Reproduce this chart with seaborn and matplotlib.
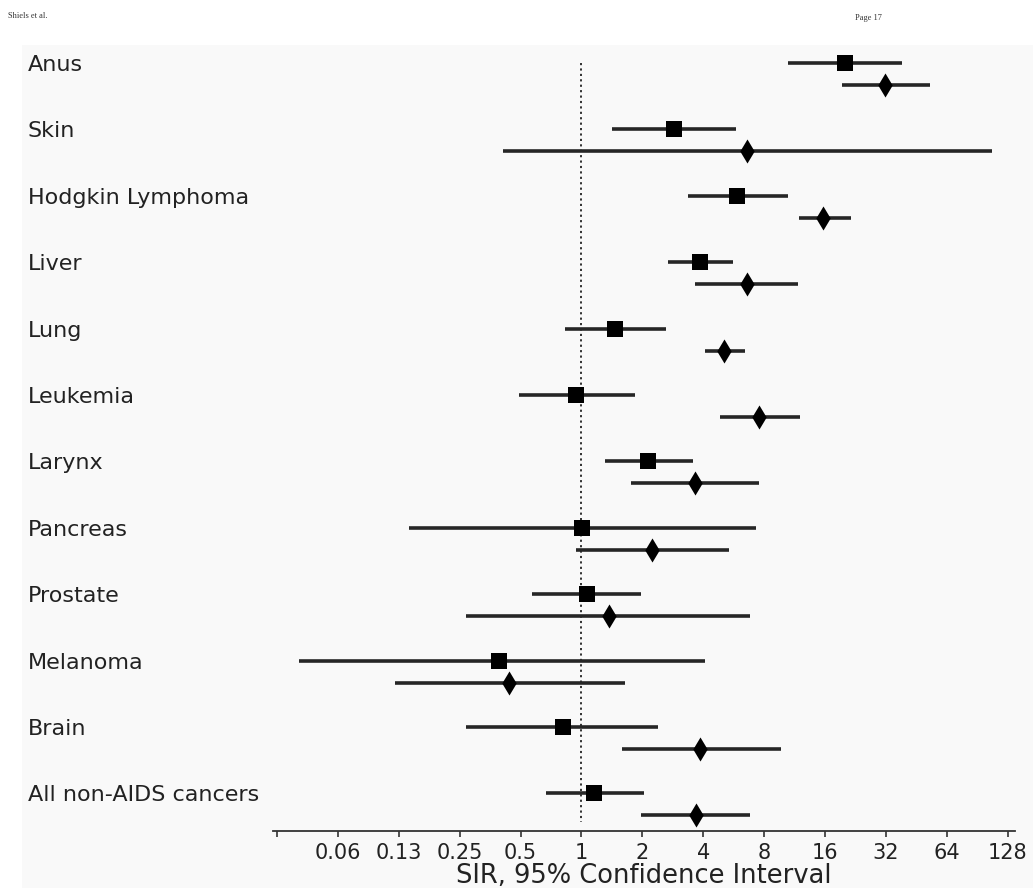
import numpy as np
import pandas as pd
import matplotlib
matplotlib.use("Agg")
import matplotlib.pyplot as plt
import seaborn as sns
from matplotlib.patches import Rectangle

# cancer sites, top to bottom
sites = ["Anus", "Skin", "Hodgkin Lymphoma", "Liver", "Lung", "Leukemia",
         "Larynx", "Pancreas", "Prostate", "Melanoma", "Brain",
         "All non-AIDS cancers"]

# first estimate per site (square marker)
sq_sir = [20.0, 2.86, 5.87, 3.85, 1.46, 0.94, 2.14, 1.01, 1.06, 0.39, 0.81, 1.16]
sq_lo = [10.5, 1.42, 3.37, 2.68, 0.83, 0.49, 1.30, 0.14, 0.57, 0.04, 0.27, 0.67]
sq_hi = [38.6, 5.84, 10.5, 5.62, 2.63, 1.84, 3.54, 7.26, 1.98, 4.09, 2.38, 2.03]

# second estimate per site (diamond marker)
dm_sir = [31.6, 6.6, 15.7, 6.6, 5.08, 7.55, 3.64, 2.24, 1.37, 0.44, 3.87, 3.70]
dm_lo = [19.3, 0.41, 11.9, 3.66, 4.07, 4.83, 1.75, 0.94, 0.27, 0.12, 1.59, 1.98]
dm_hi = [52.7, 107.0, 21.6, 11.7, 6.46, 12.0, 7.55, 5.37, 6.82, 1.64, 9.64, 6.78]

tick_vals = [2.0 ** k for k in range(-5, 8)]
tick_labels = ["", "0.06", "0.13", "0.25", "0.5", "1", "2", "4", "8",
               "16", "32", "64", "128"]

rows = np.arange(len(sites))
df_sq = pd.DataFrame({"site": sites, "sir": sq_sir, "lo": sq_lo, "hi": sq_hi, "y": rows})
df_dm = pd.DataFrame({"site": sites, "sir": dm_sir, "lo": dm_lo, "hi": dm_hi, "y": rows + 0.33})

sns.set_theme(style="white")
plt.rcParams["font.family"] = ["DejaVu Sans"]

fig = plt.figure(figsize=(10.33, 8.88), dpi=100)

# light page panel behind the chart
fig.patches.append(Rectangle((22 / 1033, 0), 1, 1 - 45 / 888, transform=fig.transFigure,
                             facecolor="#f9f9f9", edgecolor="none", zorder=-10))

ax = fig.add_axes([0.264, 0.0642, 0.7186, 0.8851])
ax.patch.set_alpha(0)

# reference line at SIR = 1
ax.vlines(1, 0, 11.43, colors="#222222", linestyles=(0, (1.2, 1.8)), linewidth=1.3, zorder=1)

# confidence intervals
ax.hlines(df_sq["y"], df_sq["lo"], df_sq["hi"], colors="#262626", linewidth=2.6, zorder=2)
ax.hlines(df_dm["y"], df_dm["lo"], df_dm["hi"], colors="#262626", linewidth=2.6, zorder=2)

# point estimates
sns.scatterplot(data=df_sq, x="sir", y="y", marker="s", s=135, color="black",
                linewidth=0, ax=ax, legend=False, zorder=3)
sns.scatterplot(data=df_dm, x="sir", y="y", marker="d", s=150, color="black",
                linewidth=0, ax=ax, legend=False, zorder=3)

ax.set_xscale("log", base=2)
ax.set_xlim(2 ** -5.07, 2 ** 7.12)
ax.set_ylim(11.566, -0.271)

ax.set_xticks(tick_vals)
ax.set_xticklabels(tick_labels, fontsize=15, color="#222222")
ax.minorticks_off()
ax.tick_params(axis="x", direction="out", length=4, width=1.2, color="#333333",
               pad=5, bottom=True)

ax.set_yticks(rows)
ax.set_yticklabels(sites, fontsize=16, color="#222222")
for lbl in ax.get_yticklabels():
    lbl.set_horizontalalignment("left")
ax.tick_params(axis="y", length=0, pad=176.5)

ax.set_xlabel("SIR, 95% Confidence Interval", fontsize=18.5, color="#222222", labelpad=0)
ax.set_ylabel("")

for side in ["top", "right", "left"]:
    ax.spines[side].set_visible(False)
ax.spines["bottom"].set_color("#333333")
ax.spines["bottom"].set_linewidth(1.3)

# page header
fig.text(8 / 1033, 1 - 16 / 888, "Shiels et al.", fontsize=6, family="Liberation Serif",
         color="#333333", va="center")
fig.text(855 / 1033, 1 - 18 / 888, "Page 17", fontsize=6, family="Liberation Serif",
         color="#333333", va="center")

fig.savefig("out.png", dpi=100)
